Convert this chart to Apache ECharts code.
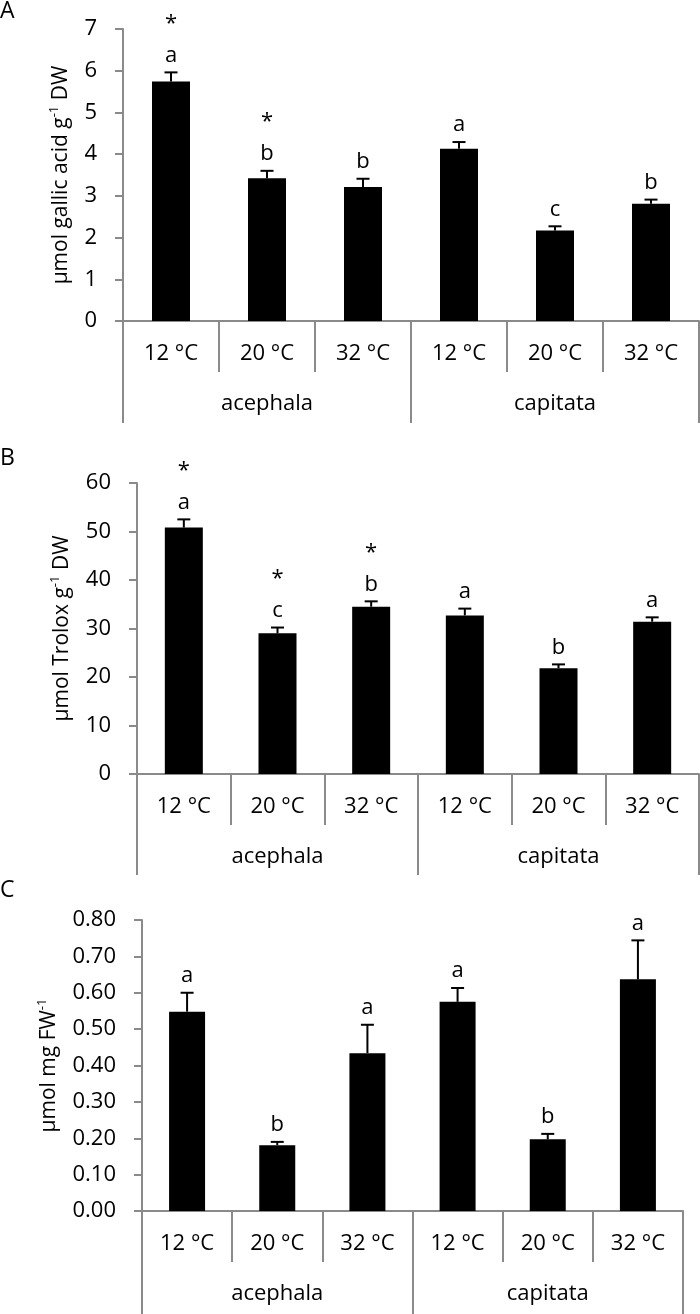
<!DOCTYPE html>
<html>
<head>
<meta charset="utf-8">
<script src="https://cdn.jsdelivr.net/npm/echarts@6/dist/echarts.min.js"></script>
<style>html,body{margin:0;padding:0;background:#fff}#c{width:700px;height:1314px}</style>
</head>
<body>
<div id="c"></div>
<script>
// ---- data ----
const tempLabels = ['12 °C', '20 °C', '32 °C', '12 °C', '20 °C', '32 °C'];
const groupLabels = ['acephala', 'capitata'];

const aMeans = [5.74, 3.42, 3.21, 4.13, 2.17, 2.81];
const aErrs = [0.22, 0.18, 0.20, 0.16, 0.10, 0.10];
const aLetters = ['a', 'b', 'b', 'a', 'c', 'b'];
const aStars = ['*', '*', '', '', '', ''];
const aTicks = {min: 0, max: 7, interval: 1};

const bMeans = [50.8, 29.0, 34.5, 32.7, 21.8, 31.4];
const bErrs = [1.7, 1.2, 1.1, 1.4, 0.8, 0.9];
const bLetters = ['a', 'c', 'b', 'a', 'b', 'a'];
const bStars = ['*', '*', '*', '', '', ''];
const bTicks = {min: 0, max: 60, interval: 10};

const cMeans = [0.548, 0.181, 0.434, 0.575, 0.197, 0.637];
const cErrs = [0.052, 0.009, 0.078, 0.038, 0.015, 0.107];
const cLetters = ['a', 'b', 'a', 'a', 'b', 'a'];
const cStars = ['', '', '', '', '', ''];
const cTicks = {min: 0, max: 0.8, interval: 0.1};

const panelNames = ['A', 'B', 'C'];

// ---- styling ----
const FONT = 'Open Sans';
const AX = '#8a8a8a';
const FS = 22;

const panels = [
  {means: aMeans, errs: aErrs, letters: aLetters, stars: aStars, ticks: aTicks, dec: 0,
   name: 'µmol gallic acid g{sup|-1} DW', grid: {left: 123, top: 29, right: 1, height: 292}, nameGap: 46, barW: 38, longTick: 102},
  {means: bMeans, errs: bErrs, letters: bLetters, stars: bStars, ticks: bTicks, dec: 0,
   name: 'µmol Trolox g{sup|-1} DW', grid: {left: 137, top: 483, right: 1, height: 291}, nameGap: 59, barW: 38, longTick: 101},
  {means: cMeans, errs: cErrs, letters: cLetters, stars: cStars, ticks: cTicks, dec: 2,
   name: 'µmol mg FW{sup|-1}', grid: {left: 142, top: 920, right: 17, height: 291}, nameGap: 80, barW: 36, longTick: 103}
];

function errRender(letters, stars) {
  return function (params, api) {
    const i = api.value(0);
    const top = api.coord([i, api.value(1)]);
    const base = api.coord([i, api.value(2)]);
    const cap = 6.5;
    const children = [
      {type: 'line', shape: {x1: top[0], y1: base[1], x2: top[0], y2: top[1]}, style: {stroke: '#000', lineWidth: 2}},
      {type: 'line', shape: {x1: top[0] - cap, y1: top[1], x2: top[0] + cap, y2: top[1]}, style: {stroke: '#000', lineWidth: 2}},
      {type: 'text', x: top[0], y: top[1] - 17, style: {text: letters[i], fill: '#000', font: FS + 'px "' + FONT + '"', align: 'center', verticalAlign: 'middle'}}
    ];
    if (stars[i]) {
      children.push({type: 'text', x: top[0], y: top[1] - 49, style: {text: stars[i], fill: '#000', font: '22px "' + FONT + '"', align: 'center', verticalAlign: 'middle'}});
    }
    return {type: 'group', children: children};
  };
}

const grid = [], xAxis = [], yAxis = [], series = [], title = [];
const titleTops = [0, 447, 879];
panels.forEach((p, k) => {
  grid.push(p.grid);
  title.push({text: panelNames[k], left: 0, top: titleTops[k], padding: 0,
    textStyle: {fontFamily: FONT, fontSize: 23, fontWeight: 'normal', color: '#000'}});
  xAxis.push({
    type: 'category', gridIndex: k, data: tempLabels, position: 'bottom',
    axisLine: {show: true, lineStyle: {color: AX, width: 2}},
    axisTick: {show: true, interval: 0, length: 51, lineStyle: {color: AX, width: 2}},
    axisLabel: {interval: 0, margin: 22, color: '#000', fontFamily: FONT, fontSize: FS}
  });
  xAxis.push({
    type: 'category', gridIndex: k, data: groupLabels, position: 'bottom',
    axisLine: {show: false},
    axisTick: {show: true, interval: 0, length: p.longTick, lineStyle: {color: AX, width: 2}},
    axisLabel: {interval: 0, margin: 72, color: '#000', fontFamily: FONT, fontSize: FS}
  });
  yAxis.push({
    type: 'value', gridIndex: k, min: p.ticks.min, max: p.ticks.max, interval: p.ticks.interval,
    splitLine: {show: false},
    axisLine: {show: true, lineStyle: {color: AX, width: 2}},
    axisTick: {show: true, length: 8, lineStyle: {color: AX, width: 2}},
    axisLabel: {margin: 26, color: '#000', fontFamily: FONT, fontSize: FS,
      formatter: (v) => v.toFixed(p.dec)},
    name: p.name, nameLocation: 'middle', nameGap: p.nameGap,
    nameTextStyle: {color: '#000', fontFamily: FONT, fontSize: 21, lineHeight: 26,
      rich: {sup: {fontFamily: FONT, fontSize: 13, lineHeight: 13, verticalAlign: 'top', color: '#000'}}}
  });
  series.push({
    type: 'bar', xAxisIndex: 2 * k, yAxisIndex: k, data: p.means, barWidth: p.barW,
    itemStyle: {color: '#000'}, silent: true, animation: false
  });
  series.push({
    type: 'custom', xAxisIndex: 2 * k, yAxisIndex: k, clip: false, animation: false, silent: true,
    data: p.means.map((m, i) => [i, m + p.errs[i], m]),
    renderItem: errRender(p.letters, p.stars), z: 5
  });
});

const chart = echarts.init(document.getElementById('c'), null, {renderer: 'canvas'});
chart.setOption({animation: false, backgroundColor: '#fff', title, grid, xAxis, yAxis, series});
</script>
</body>
</html>
